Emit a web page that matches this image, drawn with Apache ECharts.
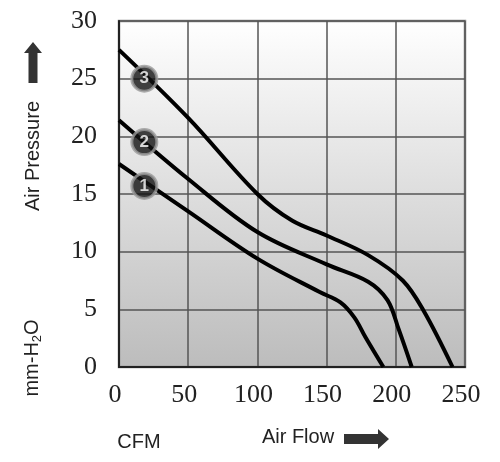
<!DOCTYPE html>
<html>
<head>
<meta charset="utf-8">
<title>fan-pq-curve</title>
<script src="https://cdn.jsdelivr.net/npm/echarts@6/dist/echarts.min.js"></script>
<style>
  html, body { margin: 0; padding: 0; background: #fff; }
  #main { width: 500px; height: 462px; }
</style>
</head>
<body>
<div id="main"></div>
<script>
// P-Q curves: [CFM, mm-H2O]
var curve1 = [[0, 17.6], [50, 13.5], [100, 9.4], [145, 6.5], [160, 5.6], [170, 4.3], [178, 2.6], [191, 0]];
var curve2 = [[0, 21.4], [50, 16.3], [100, 11.7], [150, 8.9], [180, 7.4], [194, 5.8], [202, 3.3], [211.5, 0]];
var curve3 = [[0, 27.5], [50, 21.6], [100, 15.0], [125, 12.7], [150, 11.4], [180, 9.7], [205, 7.5], [220, 4.9], [241, 0]];
var badges = [[18.3, 15.7, '1'], [18.3, 19.5, '2'], [18.3, 25.0, '3']];
var xTicks = { min: 0, max: 250, step: 50 };
var yTicks = { min: 0, max: 30, step: 5 };

var chart = echarts.init(document.getElementById('main'));

function curveSeries(data) {
  return {
    type: 'line',
    data: data,
    smooth: 0.35,
    symbol: 'none',
    lineStyle: { color: '#000', width: 4 },
    z: 3
  };
}

var tickFont = { fontFamily: 'Liberation Serif', fontSize: 26, color: '#222' };

var option = {
  animation: false,
  grid: {
    left: 119, top: 21, right: 35, bottom: 95,
    show: true,
    borderColor: '#888',
    borderWidth: 2.5,
    backgroundColor: new echarts.graphic.LinearGradient(0, 0, 0, 1, [
      { offset: 0, color: '#ffffff' },
      { offset: 1, color: '#bcbcbc' }
    ])
  },
  xAxis: {
    type: 'value',
    min: xTicks.min, max: xTicks.max, interval: xTicks.step,
    axisLine: { show: true, lineStyle: { color: '#222', width: 2 } },
    axisTick: { show: false },
    splitLine: { show: true, lineStyle: { color: '#555', width: 1.5 } },
    axisLabel: Object.assign({ margin: 15, padding: [0, 8, 0, 0] }, tickFont)
  },
  yAxis: {
    type: 'value',
    min: yTicks.min, max: yTicks.max, interval: yTicks.step,
    axisLine: { show: true, lineStyle: { color: '#222', width: 2 } },
    axisTick: { show: false },
    splitLine: { show: true, lineStyle: { color: '#555', width: 1.5 } },
    axisLabel: Object.assign({ margin: 22 }, tickFont)
  },
  series: [
    curveSeries(curve1),
    curveSeries(curve2),
    curveSeries(curve3),
    {
      type: 'scatter',
      data: badges,
      symbolSize: 25,
      itemStyle: { color: '#111', borderColor: '#9a9a9a', borderWidth: 3 },
      label: {
        show: true,
        position: 'inside',
        formatter: function (p) { return p.value[2]; },
        color: '#fff',
        fontFamily: 'Liberation Sans',
        fontWeight: 'bold',
        fontSize: 17
      },
      z: 5
    }
  ],
  graphic: [
    // up arrow
    { type: 'polygon', shape: { points: [[33, 42], [42, 53], [37.5, 53], [37.5, 83], [28.5, 83], [28.5, 53], [24, 53]] }, style: { fill: '#333' } },
    { type: 'text', x: 33, y: 156, rotation: Math.PI / 2,
      style: { text: 'Air Pressure', fontFamily: 'Liberation Sans', fontSize: 20, fill: '#222', align: 'center', verticalAlign: 'middle' } },
    { type: 'text', x: 32, y: 358, rotation: Math.PI / 2,
      style: {
        text: '{a|mm-H}{s|2}{a|O}',
        align: 'center', verticalAlign: 'middle',
        rich: {
          a: { fontFamily: 'Liberation Sans', fontSize: 20, fill: '#222' },
          s: { fontFamily: 'Liberation Sans', fontSize: 13, fill: '#222', padding: [10, 0, 0, 0] }
        }
      } },
    { type: 'text', x: 139, y: 442,
      style: { text: 'CFM', fontFamily: 'Liberation Sans', fontSize: 20, fill: '#222', align: 'center', verticalAlign: 'middle' } },
    { type: 'text', x: 298, y: 437,
      style: { text: 'Air Flow', fontFamily: 'Liberation Sans', fontSize: 20, fill: '#222', align: 'center', verticalAlign: 'middle' } },
    // right arrow
    { type: 'polygon', shape: { points: [[344, 434], [378, 434], [378, 429], [389, 439], [378, 449], [378, 444], [344, 444]] }, style: { fill: '#333' } }
  ]
};

chart.setOption(option);
</script>
</body>
</html>
